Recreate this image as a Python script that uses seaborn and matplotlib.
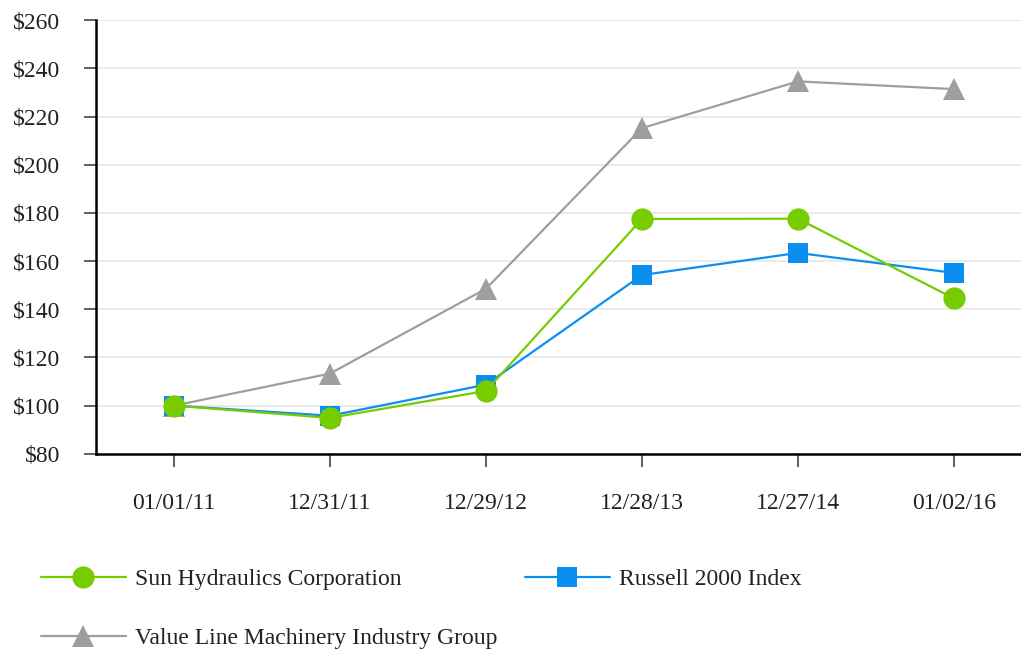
import matplotlib
matplotlib.use("Agg")
from matplotlib import pyplot as plt
import numpy as np
import pandas as pd
import seaborn as sns

# Data
dates = ['01/01/11', '12/31/11', '12/29/12', '12/28/13', '12/27/14', '01/02/16']
sun_hydraulics = [100, 94.9, 106.1, 177.5, 177.6, 144.5]
russell_2000 = [100, 95.8, 108.7, 154.2, 163.4, 155.1]
value_line = [100, 113.3, 148.5, 215.2, 234.6, 231.4]

sns.set_style("white")
plt.rcParams['font.family'] = ['Liberation Serif', 'DejaVu Serif']

fig = plt.figure(figsize=(10.21, 6.52), dpi=100)
ax = fig.add_axes([0.094, 0.304, 0.906, 0.665])

x = np.arange(len(dates))
df = pd.DataFrame({'x': x, 'sun': sun_hydraulics, 'russell': russell_2000, 'value': value_line})

series = [
    ('sun', 'Sun Hydraulics Corporation', '#77cc00', 'o', 16),
    ('russell', 'Russell 2000 Index', '#0a8ff0', 's', 15),
    ('value', 'Value Line Machinery Industry Group', '#9e9e9e', '^', 16),
]
# draw grey first so green ends up on top
for col, label, color, marker, ms in series[::-1]:
    sns.lineplot(data=df, x='x', y=col, ax=ax, color=color, marker=marker,
                 markersize=ms, markeredgewidth=0, linewidth=1.6, label=label)

ax.set_xlim(-0.5, 5.43)
ax.set_ylim(80, 260)
ax.set_yticks(np.arange(80, 261, 20))
ax.set_yticklabels([f'${v}' for v in range(80, 261, 20)])
ax.set_xticks(x)
ax.set_xticklabels(dates)
ax.set_xlabel('')
ax.set_ylabel('')

ax.grid(axis='y', color='#e6e6e6', linewidth=1.2)
ax.set_axisbelow(True)
for side in ['top', 'right']:
    ax.spines[side].set_visible(False)
for side in ['left', 'bottom']:
    ax.spines[side].set_color('black')
    ax.spines[side].set_linewidth(1.8)
ax.tick_params(axis='y', which='major', length=9, width=1.2, color='#444444',
               pad=17, labelsize=17, left=True, labelcolor='#222222')
ax.tick_params(axis='x', which='major', length=9, width=1.2, color='#444444',
               pad=19, labelsize=17, bottom=True, labelcolor='#222222')

# Legend below the axes, row order Sun, Russell / Value Line
h, l = ax.get_legend_handles_labels()
lookup = dict(zip(l, h))
order = ['Sun Hydraulics Corporation', 'Value Line Machinery Industry Group', 'Russell 2000 Index']
ax.get_legend().remove()
fig.legend([lookup[k] for k in order], order, loc='upper left',
           bbox_to_anchor=(0.04, 0.128), ncol=2, frameon=False, fontsize=17,
           handlelength=3.6, handletextpad=0.4, columnspacing=1.15,
           labelspacing=1.6, borderaxespad=0, borderpad=0)
for t in fig.legends[0].get_texts():
    t.set_color('#222222')

fig.savefig('out.png', dpi=100)
